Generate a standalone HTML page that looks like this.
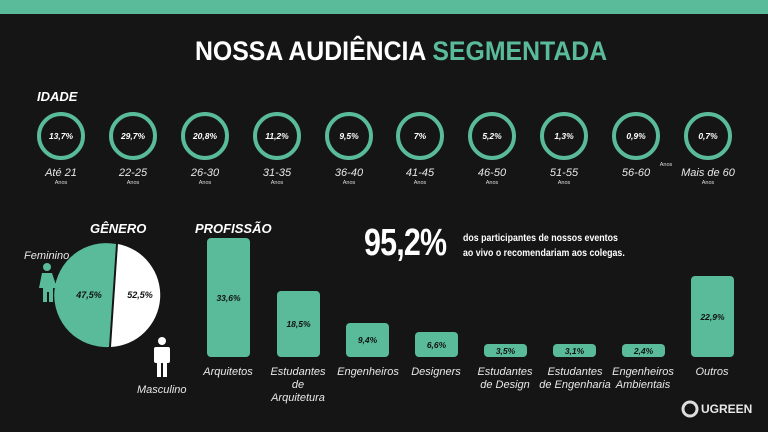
<!DOCTYPE html>
<html><head><meta charset="utf-8"><style>
*{margin:0;padding:0;box-sizing:border-box}
body{width:768px;height:432px;background:#151515;position:relative;overflow:hidden;font-family:"Liberation Sans","DejaVu Sans",sans-serif;color:#fff}
.a{position:absolute;white-space:nowrap}
.lbl{font-style:italic;font-size:11px;color:#e8e8e8;text-align:center;line-height:13px}
.bar{position:absolute;background:#59bb99;border-radius:4px;width:43px;bottom:75px;color:#111;font-weight:bold;font-style:italic;font-size:8.5px;display:flex;align-items:center;justify-content:center}
.h{font-weight:bold;font-style:italic;font-size:13px}
</style></head><body>
<div class="a" style="left:0;top:0;width:768px;height:14px;background:#59bb99"></div>
<div class="a" style="left:15px;top:36px;width:768px;text-align:center;font-weight:bold;font-size:27px;transform:scaleX(0.92);transform-origin:410px 0">NOSSA AUDIÊNCIA <span style="color:#59bb99">SEGMENTADA</span></div>
<div class="a h" style="left:37px;top:89px">IDADE</div>
<svg class="a" style="left:0;top:0" width="768" height="432">
<g fill="none" stroke="#59bb99" stroke-width="4">
<circle cx="61" cy="136" r="22"/><circle cx="133" cy="136" r="22"/><circle cx="205" cy="136" r="22"/><circle cx="277" cy="136" r="22"/><circle cx="349" cy="136" r="22"/><circle cx="420" cy="136" r="22"/><circle cx="492" cy="136" r="22"/><circle cx="564" cy="136" r="22"/><circle cx="636" cy="136" r="22"/><circle cx="708" cy="136" r="22"/>
</g>
<g font-family="Liberation Sans" font-weight="bold" font-style="italic" font-size="8.5" fill="#fff" text-anchor="middle">
<text x="61" y="139">13,7%</text><text x="133" y="139">29,7%</text><text x="205" y="139">20,8%</text><text x="277" y="139">11,2%</text><text x="349" y="139">9,5%</text><text x="420" y="139">7%</text><text x="492" y="139">5,2%</text><text x="564" y="139">1,3%</text><text x="636" y="139">0,9%</text><text x="708" y="139">0,7%</text>
</g>
<g font-family="Liberation Sans" font-style="italic" font-size="11" fill="#e8e8e8" text-anchor="middle">
<text x="61" y="176">Até 21</text><text x="133" y="176">22-25</text><text x="205" y="176">26-30</text><text x="277" y="176">31-35</text><text x="349" y="176">36-40</text><text x="420" y="176">41-45</text><text x="492" y="176">46-50</text><text x="564" y="176">51-55</text><text x="636" y="176">56-60</text><text x="708" y="176">Mais de 60</text>
</g>
<g font-family="Liberation Sans" font-size="5.5" fill="#ddd" text-anchor="middle">
<text x="61" y="184">Anos</text><text x="133" y="184">Anos</text><text x="205" y="184">Anos</text><text x="277" y="184">Anos</text><text x="349" y="184">Anos</text><text x="420" y="184">Anos</text><text x="492" y="184">Anos</text><text x="564" y="184">Anos</text><text x="666" y="166">Anos</text><text x="708" y="184">Anos</text>
</g>
<path d="M118,244 A52,52 0 0 1 111,347 Z" fill="#fff"/>
<path d="M116,244 A52,52 0 1 0 109,347 Z" fill="#59bb99"/>
<text x="89" y="298" font-family="Liberation Sans" font-weight="bold" font-style="italic" font-size="9" fill="#111" text-anchor="middle">47,5%</text>
<text x="140" y="298" font-family="Liberation Sans" font-weight="bold" font-style="italic" font-size="9" fill="#111" text-anchor="middle">52,5%</text>
<g fill="#59bb99"><circle cx="47" cy="267" r="4"/><path d="M42,273 h10 l5,15 h-4 v14 h-4 v-10 h-2 v10 h-4 v-14 h-4 z"/></g>
<g fill="#fff"><circle cx="162" cy="341" r="4"/><rect x="154" y="347" width="16" height="16" rx="2"/><rect x="157" y="361" width="4" height="16"/><rect x="163" y="361" width="4" height="16"/></g>
<g fill="none" stroke="#ddd" stroke-width="3"><circle cx="690" cy="409" r="7"/></g>
</svg>
<div class="a lbl" style="left:24px;top:250px">Feminino</div>
<div class="a lbl" style="left:137px;top:384px">Masculino</div>
<div class="a h" style="left:90px;top:221px">GÊNERO</div>
<div class="a h" style="left:195px;top:221px">PROFISSÃO</div>
<div class="bar" style="left:207px;height:119px">33,6%</div>
<div class="bar" style="left:277px;height:66px">18,5%</div>
<div class="bar" style="left:346px;height:34px">9,4%</div>
<div class="bar" style="left:415px;height:25px">6,6%</div>
<div class="bar" style="left:484px;height:13px">3,5%</div>
<div class="bar" style="left:553px;height:13px">3,1%</div>
<div class="bar" style="left:622px;height:13px">2,4%</div>
<div class="bar" style="left:691px;height:81px">22,9%</div>
<div class="a lbl" style="left:188px;top:366px;width:80px">Arquitetos</div>
<div class="a lbl" style="left:258px;top:366px;width:80px">Estudantes<br>de<br>Arquitetura</div>
<div class="a lbl" style="left:328px;top:366px;width:80px">Engenheiros</div>
<div class="a lbl" style="left:396px;top:366px;width:80px">Designers</div>
<div class="a lbl" style="left:465px;top:366px;width:80px">Estudantes<br>de Design</div>
<div class="a lbl" style="left:529px;top:366px;width:92px">Estudantes<br>de Engenharia</div>
<div class="a lbl" style="left:603px;top:366px;width:80px">Engenheiros<br>Ambientais</div>
<div class="a lbl" style="left:672px;top:366px;width:80px">Outros</div>
<div class="a" style="left:364px;top:222px;font-weight:bold;font-size:38px;letter-spacing:-1px;transform:scaleX(0.8);transform-origin:0 0">95,2%</div>
<div class="a" style="left:463px;top:231px;font-weight:bold;font-size:10.5px;line-height:15px;transform:scaleX(0.84);transform-origin:0 0">dos participantes de nossos eventos<br>ao vivo o recomendariam aos colegas.</div>
<div class="a" style="left:701px;top:402px;font-weight:bold;font-size:12px;color:#e8e8e8">UGREEN</div>
</body></html>
